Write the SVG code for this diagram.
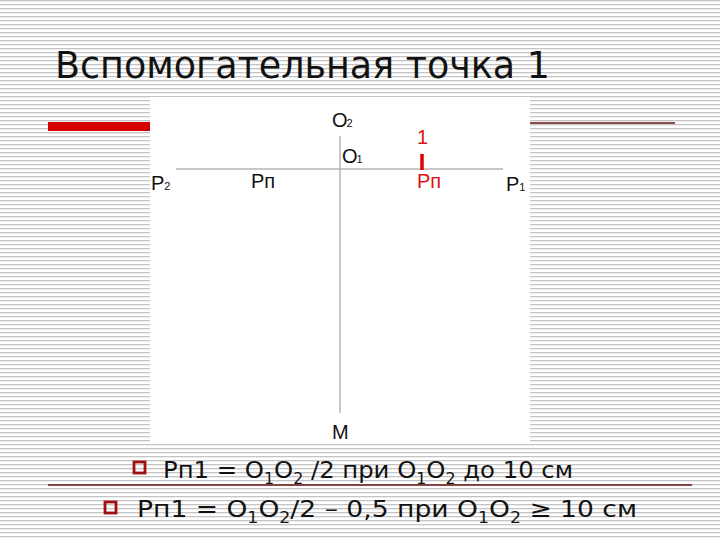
<svg xmlns="http://www.w3.org/2000/svg" width="720" height="540" viewBox="0 0 720 540">
<defs>
<pattern id="stripes" width="4" height="4" patternUnits="userSpaceOnUse">
<rect width="4" height="4" fill="#ffffff"/>
<rect y="0" width="4" height="1.3" fill="#c4c4c4"/>
</pattern>
<style>
.lbl{font-family:"Liberation Sans",Arial,sans-serif;font-size:20px;fill:#111}
.sub{font-size:11px}
.red{fill:#e01010}
.body{font-family:"DejaVu Sans",Verdana,sans-serif;font-size:23px;fill:#111}
.bsub{font-size:15px}
.axis{stroke:#b4b4b4;stroke-width:1.5;fill:none}
.bullet{fill:none;stroke:#a01010;stroke-width:2.8}
</style>
</defs>
<rect width="720" height="540" fill="url(#stripes)"/>
<text x="55" y="78" font-family="DejaVu Sans,Verdana,sans-serif" font-size="37" fill="#111" textLength="495" lengthAdjust="spacingAndGlyphs">Вспомогательная точка 1</text>
<rect x="48" y="122" width="103" height="9" fill="#d40000"/>
<line x1="530" y1="123" x2="675" y2="123" stroke="#6a1010" stroke-width="1.5"/>
<rect x="150" y="97" width="380" height="347" fill="#ffffff"/>
<g id="connectors">
<line class="axis" x1="176" y1="169" x2="503" y2="169"/>
<line class="axis" x1="340" y1="136" x2="340" y2="413"/>
<line x1="422" y1="154" x2="422" y2="170" stroke="#e00000" stroke-width="3.5"/>
</g>
<g id="O2"><text class="lbl" x="332" y="127">O<tspan class="sub" dx="-1">2</tspan></text></g>
<g id="O1"><text class="lbl" x="342" y="163">O<tspan class="sub" dx="-1">1</tspan></text></g>
<g id="P2"><text class="lbl" x="151" y="190">P<tspan class="sub">2</tspan></text></g>
<g id="Pn-left"><text class="lbl" x="251" y="188">Рп</text></g>
<g id="Pn-right"><text class="lbl red" x="417" y="188">Рп</text><text class="lbl red" x="417" y="144" font-size="16">1</text></g>
<g id="P1"><text class="lbl" x="506" y="191">P<tspan class="sub">1</tspan></text></g>
<g id="M"><text class="lbl" x="332" y="439">M</text></g>
<line x1="48" y1="485" x2="692" y2="485" stroke="#6a1010" stroke-width="1.5"/>
<rect class="bullet" x="134" y="462" width="11" height="11"/>
<text class="body" x="163" y="478" textLength="410" lengthAdjust="spacingAndGlyphs">Рп1 = O<tspan class="bsub" dy="6">1</tspan><tspan dy="-6">O</tspan><tspan class="bsub" dy="6">2</tspan><tspan dy="-6"> /2 при O</tspan><tspan class="bsub" dy="6">1</tspan><tspan dy="-6">O</tspan><tspan class="bsub" dy="6">2</tspan><tspan dy="-6"> до 10 см</tspan></text>
<rect class="bullet" x="105" y="502" width="11" height="11"/>
<text class="body" x="137" y="517" textLength="500" lengthAdjust="spacingAndGlyphs">Рп1 = O<tspan class="bsub" dy="6">1</tspan><tspan dy="-6">O</tspan><tspan class="bsub" dy="6">2</tspan><tspan dy="-6">/2 – 0,5 при O</tspan><tspan class="bsub" dy="6">1</tspan><tspan dy="-6">O</tspan><tspan class="bsub" dy="6">2</tspan><tspan dy="-6"> ≥ 10 см</tspan></text>
</svg>
